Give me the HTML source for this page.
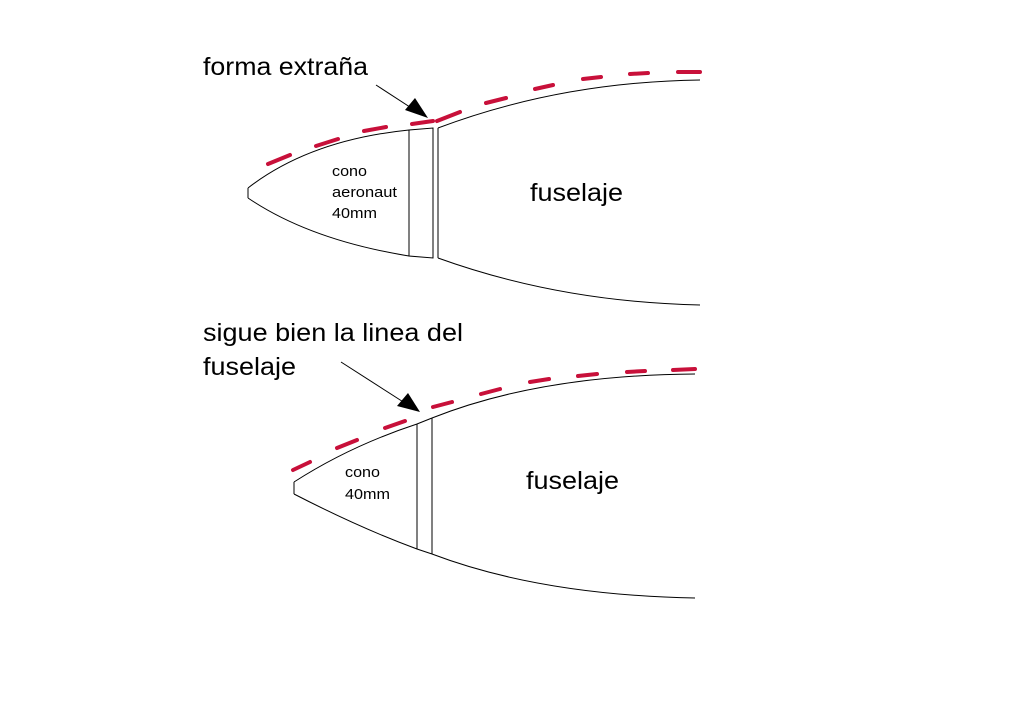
<!DOCTYPE html>
<html><head><meta charset="utf-8"><style>
html,body{margin:0;padding:0;background:#fff;}
svg{display:block;}
text{font-family:"Liberation Sans",Arial,sans-serif;fill:#000;}
</style></head><body>
<svg width="1024" height="725" viewBox="0 0 1024 725" xmlns="http://www.w3.org/2000/svg">
<rect width="1024" height="725" fill="#fff"/>
<g fill="none" stroke="#000" stroke-width="1">
<path d="M248,188 L248,198"/>
<path d="M248,188 Q310,140 409,130 L433,128 L433,258 L409,256 L409,130"/>
<path d="M248,198 Q310,240 409,256"/>
<path d="M438,128 L438,258"/>
<path d="M438,128 Q560,82 700,80"/>
<path d="M438,258 Q560,302 700,305"/>
<path d="M294,482 L294,494"/>
<path d="M294,482 Q350,446 417,424 L432,418"/>
<path d="M294,494 Q360,528 417,549 L432,554"/>
<path d="M417,424 L417,549 M432,418 L432,554"/>
<path d="M432,418 Q540,375 695,374"/>
<path d="M432,554 Q540,595 695,598"/>
<path d="M376,85 L416,111"/>
<path d="M341,362 L408,405"/>
</g>
<polygon points="428,118 405,110 415,98" fill="#000"/>
<polygon points="420,412 397,406 408,393" fill="#000"/>
<g fill="none" stroke="#c8103a" stroke-width="4" stroke-linecap="round">
<path d="M268,164 L290,155 M316,146 L338,139 M364,131 L386,127 M412,124 L433,121 M437,121 L460,112 M486,103 L506,98 M535,89 L553,85 M583,79 L601,77 M630,74 L648,73 M678,72 L700,72"/>
<path d="M293,470 L310,462 M337,448 L357,440 M385,428 L405,421 M433,407 L452,402 M481,394 L500,389 M530,382 L549,379 M578,376 L597,374 M627,372 L645,371 M673,370 L695,369"/>
</g>
<text x="203" y="75" font-size="25" textLength="165" lengthAdjust="spacingAndGlyphs">forma extraña</text>
<text x="332" y="176" font-size="15" textLength="35" lengthAdjust="spacingAndGlyphs">cono</text>
<text x="332" y="197" font-size="15" textLength="65" lengthAdjust="spacingAndGlyphs">aeronaut</text>
<text x="332" y="218" font-size="15" textLength="45" lengthAdjust="spacingAndGlyphs">40mm</text>
<text x="530" y="201" font-size="25" textLength="93" lengthAdjust="spacingAndGlyphs">fuselaje</text>
<text x="203" y="341" font-size="25" textLength="260" lengthAdjust="spacingAndGlyphs">sigue bien la linea del</text>
<text x="203" y="375" font-size="25" textLength="93" lengthAdjust="spacingAndGlyphs">fuselaje</text>
<text x="345" y="477" font-size="15" textLength="35" lengthAdjust="spacingAndGlyphs">cono</text>
<text x="345" y="499" font-size="15" textLength="45" lengthAdjust="spacingAndGlyphs">40mm</text>
<text x="526" y="489" font-size="25" textLength="93" lengthAdjust="spacingAndGlyphs">fuselaje</text>
</svg>
</body></html>
